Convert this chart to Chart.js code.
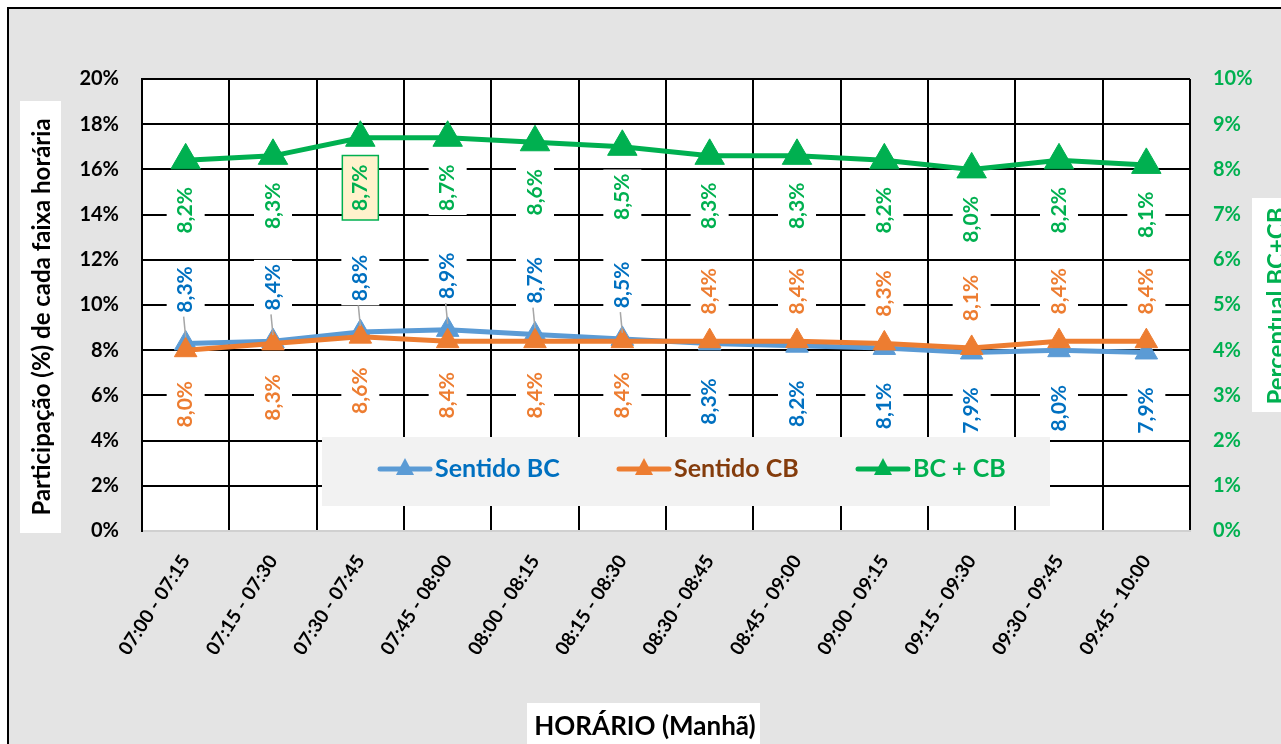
<!DOCTYPE html>
<html>
<head>
<meta charset="utf-8">
<script src="https://cdn.jsdelivr.net/npm/chart.js@4"></script>
<style>
html, body { margin: 0; padding: 0; background: #fff; overflow: hidden; }
#frame { position: absolute; left: 7px; top: 7px; width: 1274px; height: 737px; background: #e4e4e4; border-left: 2px solid #000; border-top: 2px solid #000; box-sizing: border-box; }
#wrap { position: absolute; left: 0; top: 0; width: 1281px; height: 744px; }
</style>
</head>
<body>
<div id="frame"></div>
<div id="wrap"><canvas id="myChart" width="1281" height="744"></canvas></div>
<script>
const labels = ["07:00 - 07:15", "07:15 - 07:30", "07:30 - 07:45", "07:45 - 08:00",
    "08:00 - 08:15", "08:15 - 08:30", "08:30 - 08:45", "08:45 - 09:00",
    "09:00 - 09:15", "09:15 - 09:30", "09:30 - 09:45", "09:45 - 10:00"];

// participação (%) de cada faixa horária
const sentidoBC = [8.3, 8.4, 8.8, 8.9, 8.7, 8.5, 8.3, 8.2, 8.1, 7.9, 8.0, 7.9];
const sentidoCB = [8.0, 8.3, 8.6, 8.4, 8.4, 8.4, 8.4, 8.4, 8.3, 8.1, 8.4, 8.4];
const totalBCCB = [8.2, 8.3, 8.7, 8.7, 8.6, 8.5, 8.3, 8.3, 8.2, 8.0, 8.2, 8.1];

const leftTicks = [0, 2, 4, 6, 8, 10, 12, 14, 16, 18, 20];
const rightTicks = [0, 1, 2, 3, 4, 5, 6, 7, 8, 9, 10];

const FONT = "Lato, 'Open Sans', sans-serif";
const GREEN = "#00b050";

const pct = v => v.toFixed(1).replace(".", ",") + "%";

function rotatedText(ctx, text, x, y, font, color) {
    ctx.save();
    ctx.translate(x, y);
    ctx.rotate(-Math.PI / 2);
    ctx.font = font;
    ctx.fillStyle = color;
    ctx.textAlign = "center";
    ctx.textBaseline = "middle";
    ctx.fillText(text, 0, 0);
    ctx.restore();
}

// fundo branco da area do grafico + titulos dos eixos
const decor = {
    id: "decor",
    beforeDraw(chart) {
        const c = chart.ctx;
        const a = chart.chartArea;
        c.save();
        c.fillStyle = "#fff";
        c.fillRect(a.left, a.top, a.right - a.left, a.bottom - a.top);

        c.fillRect(20, 101, 41, 432);
        c.fillRect(1252, 198, 29, 214);
        c.fillRect(527, 703, 233, 41);
        c.restore();

        rotatedText(c, "Participação (%) de cada faixa horária", 42, 317, "bold 24px " + FONT, "#000");
        rotatedText(c, "Percentual BC+CB", 1277, 306, "bold 24px " + FONT, GREEN);

        c.save();
        c.font = "bold 26px " + FONT;
        c.fillStyle = "#000";
        c.textAlign = "center";
        c.textBaseline = "middle";
        c.fillText("HORÁRIO (Manhã)", 645, 727);
        c.restore();
    }
};

// rotulos de dados (rotacionados, fundo branco)
const dataLabels = {
    id: "dataLabels",
    afterDatasetsDraw(chart) {
        const c = chart.ctx;
        const metaBC = chart.getDatasetMeta(0);
        const metaCB = chart.getDatasetMeta(1);
        const metaT = chart.getDatasetMeta(2);
        const font = "bold 21px " + FONT;

        const drawLabel = (text, x, y, color, box) => {
            c.save();
            c.font = font;
            const w = c.measureText(text).width;
            const h = w + 8;
            if (box) {
                c.fillStyle = "#fff2cc";
                c.fillRect(x - 18, y - h / 2 - 5, 36, h + 10);
                c.strokeStyle = GREEN;
                c.lineWidth = 1.5;
                c.strokeRect(x - 18, y - h / 2 - 5, 36, h + 10);
            } else {
                c.fillStyle = "#fff";
                c.fillRect(x - 19, y - h / 2, 38, h);
            }
            c.restore();
            rotatedText(c, text, x, y, font, color);
            return h;
        };

        labels.forEach((lab, i) => {
            const pBC = metaBC.data[i];
            const pCB = metaCB.data[i];
            const pT = metaT.data[i];
            const bcAbove = pBC.y <= pCB.y;

            drawLabel(pct(totalBCCB[i]), pT.x, pT.y + 50, GREEN, i === 2);

            if (bcAbove) {
                const yl = pBC.y - 54;
                const h = drawLabel(pct(sentidoBC[i]), pBC.x, yl, "#0070c0", false);
                c.save();
                c.strokeStyle = "#a6a6a6";
                c.lineWidth = 1.5;
                c.beginPath();
                c.moveTo(pBC.x - 2, yl + h / 2);
                c.lineTo(pBC.x, pBC.y - 6);
                c.stroke();
                c.restore();
                drawLabel(pct(sentidoCB[i]), pCB.x, pCB.y + 54, "#ed7d31", false);
            } else {
                drawLabel(pct(sentidoCB[i]), pCB.x, pCB.y - 50, "#ed7d31", false);
                drawLabel(pct(sentidoBC[i]), pBC.x, pBC.y + 58, "#0070c0", false);
            }
        });
    }
};

// legenda dentro da area do grafico
const boxLegend = {
    id: "boxLegend",
    afterDraw(chart) {
        const c = chart.ctx;
        c.save();
        c.fillStyle = "#f2f2f2";
        c.fillRect(322, 437, 728, 69);
        const items = [
            { x: 378, line: "#5b9bd5", text: "#0070c0" },
            { x: 617, line: "#ed7d31", text: "#843c0c" },
            { x: 856, line: GREEN, text: GREEN }
        ];
        const y = 469;
        items.forEach((it, i) => {
            c.strokeStyle = it.line;
            c.lineWidth = 5;
            c.lineCap = "round";
            c.beginPath();
            c.moveTo(it.x + 2, y);
            c.lineTo(it.x + 52, y);
            c.stroke();
            const cx = it.x + 27;
            c.fillStyle = it.line;
            c.beginPath();
            c.moveTo(cx, y - 11);
            c.lineTo(cx + 9, y + 6);
            c.lineTo(cx - 9, y + 6);
            c.closePath();
            c.fill();
            c.font = "bold 25px " + FONT;
            c.fillStyle = it.text;
            c.textAlign = "left";
            c.textBaseline = "middle";
            c.fillText(chart.data.datasets[i].label, it.x + 57, y);
        });
        c.restore();
    }
};

const data = {
    labels: labels,
    datasets: [{
        label: "Sentido BC",
        data: sentidoBC,
        yAxisID: "y",
        borderColor: "#5b9bd5",
        backgroundColor: "#5b9bd5",
        borderWidth: 5,
        pointStyle: "triangle",
        pointRadius: 13,
        pointBorderWidth: 1,
        order: 3
    }, {
        label: "Sentido CB",
        data: sentidoCB,
        yAxisID: "y",
        borderColor: "#ed7d31",
        backgroundColor: "#ed7d31",
        borderWidth: 5,
        pointStyle: "triangle",
        pointRadius: 13,
        pointBorderWidth: 1,
        order: 2
    }, {
        label: "BC + CB",
        data: totalBCCB,
        yAxisID: "y1",
        borderColor: GREEN,
        backgroundColor: GREEN,
        borderWidth: 5,
        pointStyle: "triangle",
        pointRadius: 17,
        pointBorderWidth: 1,
        order: 1
    }]
};

const config = {
    type: "line",
    data: data,
    plugins: [decor, dataLabels, boxLegend],
    options: {
        responsive: false,
        animation: false,
        layout: { padding: { top: 79 } },
        plugins: {
            legend: { display: false },
            tooltip: { enabled: false }
        },
        scales: {
            x: {
                offset: true,
                grid: { offset: true, color: "#000", lineWidth: 2, drawTicks: false },
                border: { color: "#d0d0d0", width: 2 },
                ticks: {
                    color: "#000",
                    font: { family: FONT, size: 19, weight: "bold" },
                    minRotation: 57,
                    maxRotation: 57,
                    padding: 20,
                    autoSkip: false
                },
                afterFit: s => { s.height = 213; }
            },
            y: {
                position: "left",
                min: 0,
                max: 20,
                afterBuildTicks: s => { s.ticks = leftTicks.map(v => ({ value: v })); },
                grid: {
                    color: ctx => ctx.tick && ctx.tick.value === 0 ? "#d0d0d0" : "#000",
                    lineWidth: 2,
                    drawTicks: false
                },
                border: { color: "#000", width: 2 },
                ticks: {
                    color: "#000",
                    font: { family: FONT, size: 20, weight: "bold" },
                    padding: 23,
                    callback: v => v + "%"
                },
                afterFit: s => { s.width = 142; }
            },
            y1: {
                position: "right",
                min: 0,
                max: 10,
                afterBuildTicks: s => { s.ticks = rightTicks.map(v => ({ value: v })); },
                grid: { display: false, drawTicks: false },
                border: { display: false },
                ticks: {
                    color: GREEN,
                    font: { family: FONT, size: 20, weight: "bold" },
                    padding: 23,
                    callback: v => v + "%"
                },
                afterFit: s => { s.width = 91; }
            }
        }
    }
};

const myChart = new Chart(document.getElementById("myChart"), config);
</script>
</body>
</html>
